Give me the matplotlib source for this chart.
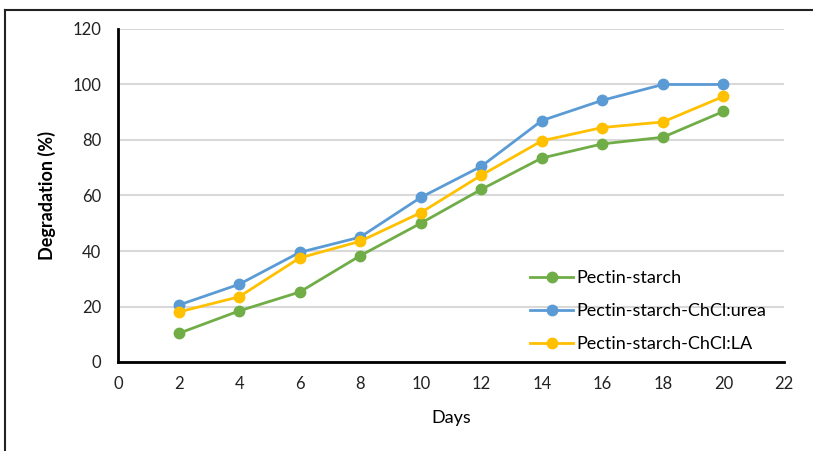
import matplotlib.pyplot as plt
from matplotlib.lines import Line2D

plt.rcParams['font.family'] = ['Lato', 'DejaVu Sans']

days = [2, 4, 6, 8, 10, 12, 14, 16, 18, 20]
pectin_starch = [10.3, 18.4, 25.2, 38.3, 50.0, 62.2, 73.5, 78.6, 81.0, 90.3]
pectin_urea = [20.5, 28.0, 39.5, 45.0, 59.3, 70.5, 87.0, 94.3, 100.0, 100.0]
pectin_la = [18.0, 23.5, 37.5, 43.5, 53.8, 67.3, 79.7, 84.5, 86.5, 95.7]

labels = ['Pectin-starch', 'Pectin-starch-ChCl:urea', 'Pectin-starch-ChCl:LA']
colors = ['#70AD47', '#5B9BD5', '#FFC000']

fig = plt.figure(figsize=(8.13, 4.51), dpi=100)
ax = fig.add_axes([118 / 813, 89 / 451, 666 / 813, 333 / 451])

for ys, lab, c in zip([pectin_starch, pectin_urea, pectin_la], labels, colors):
    ax.plot(days, ys, color=c, lw=2, marker='o', ms=7.5, label=lab, clip_on=False)

ax.set_xlim(0, 22)
ax.set_ylim(0, 120)
ax.set_xticks(range(0, 23, 2))
ax.set_yticks(range(0, 121, 20))
ax.yaxis.grid(True, color='#D9D9D9', lw=1.5)
ax.set_axisbelow(True)
for s in ['top', 'right']:
    ax.spines[s].set_visible(False)
for s in ['left', 'bottom']:
    ax.spines[s].set_linewidth(2)
    ax.spines[s].set_color('black')
ax.tick_params(length=0, labelsize=12, colors='#222222', pad=10)
ax.tick_params(axis='y', pad=12)

ax.set_xlabel('Days', fontsize=13, labelpad=13)
ax.set_ylabel('Degradation (%)', fontsize=13, fontweight='bold', labelpad=12)

leg = ax.legend(loc='upper left', bbox_to_anchor=(412 / 666, 92 / 333), frameon=False,
                fontsize=13, handlelength=2.4, handletextpad=0.15, labelspacing=0.95,
                borderaxespad=0, borderpad=0)

# frame around the chart area
fig.add_artist(Line2D([5 / 813, 5 / 813], [0, 441 / 451], color='#222222', lw=1.5))
fig.add_artist(Line2D([5 / 813, 1], [441 / 451, 441 / 451], color='#222222', lw=1.5))

fig.savefig('out.png', dpi=100)
